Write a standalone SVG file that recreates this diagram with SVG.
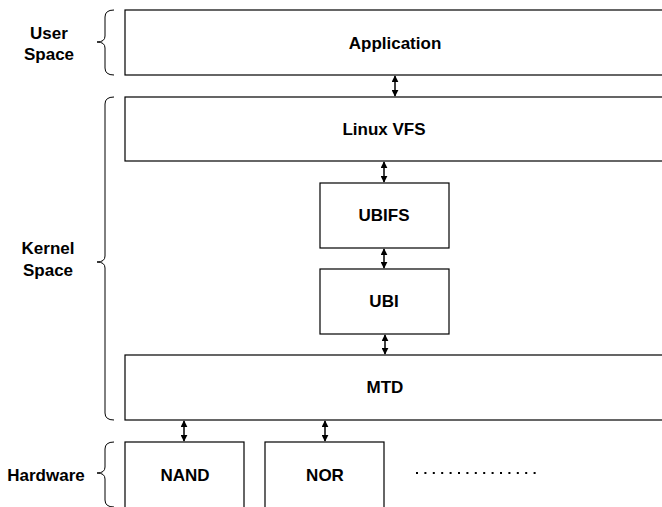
<svg xmlns="http://www.w3.org/2000/svg" width="662" height="507" viewBox="0 0 662 507">
<defs>
<style>
.box{fill:#fff;stroke:#000;stroke-width:1.2}
.t{font-family:"Liberation Sans",Arial,sans-serif;font-weight:bold;font-size:17px;fill:#000;text-anchor:middle}
.c{stroke:#000;stroke-width:1.5;fill:none}
.br{stroke:#000;stroke-width:1;fill:none}
</style>
<marker id="ah" viewBox="0 0 10 10" refX="9" refY="5" markerWidth="7" markerHeight="7" orient="auto-start-reverse" markerUnits="userSpaceOnUse">
<path d="M0,0 L10,5 L0,10 z" fill="#000"/>
</marker>
</defs>
<rect width="662" height="507" fill="#fff"/>
<g id="labels">
<text class="t" x="49" y="39">User</text>
<text class="t" x="49" y="60">Space</text>
<text class="t" x="48" y="254">Kernel</text>
<text class="t" x="48" y="276">Space</text>
<text class="t" x="46" y="481">Hardware</text>
<path class="br" d="M114,10 Q105,10 105,17 L105,36 Q105,42 97,42 Q105,42 105,48 L105,68 Q105,75 114,75"/>
<path class="br" d="M114,97 Q105,97 105,104 L105,256 Q105,262 97,262 Q105,262 105,268 L105,413 Q105,420 114,420"/>
<path class="br" d="M114,442 Q105,442 105,449 L105,467 Q105,473 97,473 Q105,473 105,479 L105,500 Q105,507 114,507"/>
</g>
<g id="application"><rect class="box" x="125" y="10" width="545" height="65"/><text class="t" x="395" y="49">Application</text></g>
<g id="linuxvfs"><rect class="box" x="125" y="97" width="545" height="64"/><text class="t" x="384" y="135">Linux VFS</text></g>
<g id="ubifs"><rect class="box" x="320" y="183" width="129" height="65"/><text class="t" x="384" y="221">UBIFS</text></g>
<g id="ubi"><rect class="box" x="320" y="269" width="129" height="65"/><text class="t" x="384" y="307">UBI</text></g>
<g id="mtd"><rect class="box" x="125" y="355" width="545" height="65"/><text class="t" x="385" y="393">MTD</text></g>
<g id="nand"><rect class="box" x="125" y="442" width="119" height="70"/><text class="t" x="185" y="481">NAND</text></g>
<g id="nor"><rect class="box" x="265" y="442" width="119" height="70"/><text class="t" x="325" y="481">NOR</text></g>
<g id="more"><line x1="416" y1="473" x2="542" y2="473" stroke="#000" stroke-width="2" stroke-dasharray="2,6.4"/></g>
<g id="connectors">
<line class="c" x1="395" y1="76" x2="395" y2="96" marker-start="url(#ah)" marker-end="url(#ah)"/>
<line class="c" x1="384" y1="162" x2="384" y2="182" marker-start="url(#ah)" marker-end="url(#ah)"/>
<line class="c" x1="384" y1="249" x2="384" y2="268" marker-start="url(#ah)" marker-end="url(#ah)"/>
<line class="c" x1="385" y1="335" x2="385" y2="354" marker-start="url(#ah)" marker-end="url(#ah)"/>
<line class="c" x1="184" y1="421" x2="184" y2="441" marker-start="url(#ah)" marker-end="url(#ah)"/>
<line class="c" x1="325" y1="421" x2="325" y2="441" marker-start="url(#ah)" marker-end="url(#ah)"/>
</g>
</svg>
